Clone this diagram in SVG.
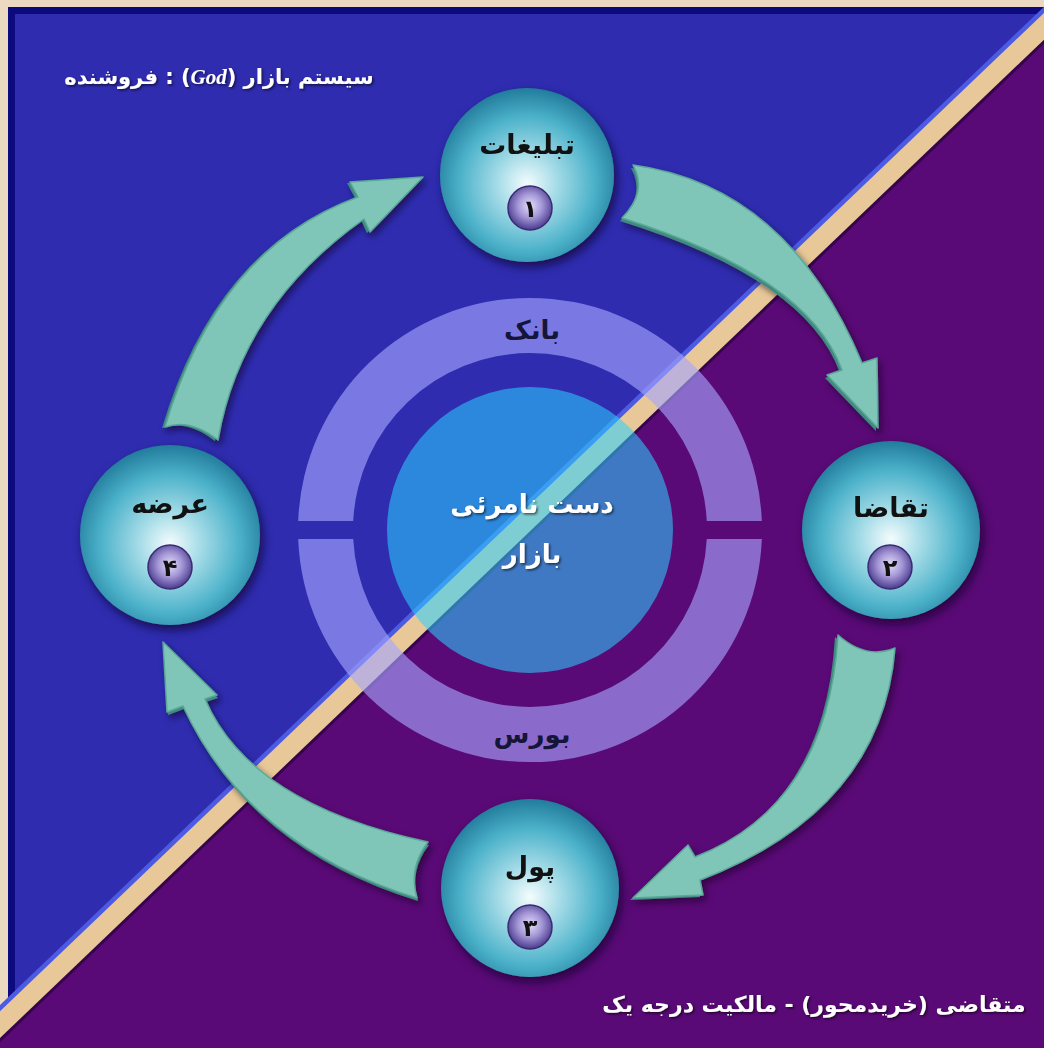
<svg xmlns="http://www.w3.org/2000/svg" width="1044" height="1048" viewBox="0 0 1044 1048">
<defs>
<style>
.fa{font-family:"DejaVu Sans",sans-serif;font-weight:bold;text-anchor:middle;direction:rtl}
.lbl{font-size:27px;fill:#111}
.dig{font-size:24px;fill:#111}
.ring{font-size:26px;fill:#15153a}
.ctr{font-size:26px;fill:#fff}
.cap{font-size:21px;fill:#fff}
.cap2{font-size:22px;fill:#fff}
.arrow{fill:#80c6b8;stroke:#5aa898;stroke-width:1.5;stroke-linejoin:round}
.aside{fill:#3f8a7f}
</style>
<radialGradient id="sph" cx="50%" cy="55%" r="55%">
<stop offset="0" stop-color="#f4fcfd"/>
<stop offset="0.3" stop-color="#a8dde8"/>
<stop offset="0.7" stop-color="#4cb2ca"/>
<stop offset="1" stop-color="#227c9c"/>
</radialGradient>
<radialGradient id="bdg" cx="50%" cy="45%" r="55%">
<stop offset="0" stop-color="#e4def8"/>
<stop offset="0.5" stop-color="#a496d6"/>
<stop offset="1" stop-color="#4a3b8e"/>
</radialGradient>
<filter id="sh" x="-25%" y="-25%" width="150%" height="150%">
<feDropShadow dx="3" dy="5" stdDeviation="5" flood-color="#100428" flood-opacity="0.7"/>
</filter>
<filter id="ash" x="-20%" y="-20%" width="140%" height="140%">
<feDropShadow dx="3" dy="4" stdDeviation="3" flood-color="#0c0424" flood-opacity="0.55"/>
</filter>
<filter id="tsh" x="-10%" y="-30%" width="120%" height="160%">
<feDropShadow dx="1.5" dy="1.5" stdDeviation="1" flood-color="#000" flood-opacity="0.6"/>
</filter>
<path id="a1" d="M633,165 Q788,186 862,363 L877,358 L878,428 L827,375 L842,370 Q808,276 622,218 Q648,192 633,165 Z"/>
<path id="a2" d="M895,648 Q882,810 700,880 L703,895 L633,898 L688,845 L695,857 Q828,805 838,635 Q866,660 895,648 Z"/>
<path id="a3" d="M417,898 Q248,846 183,706 L167,712 L163,642 L217,695 L205,699 Q250,804 428,842 Q408,868 417,898 Z"/>
<path id="a4" d="M165,427 Q218,248 358,197 L350,182 L423,177 L370,232 L364,219 Q241,306 218,440 Q190,418 165,427 Z"/>
</defs>

<g id="background">
<rect x="0" y="0" width="1044" height="1048" fill="#ecd9c2"/>
<polygon points="8,7 1080,7 8,1012" fill="#0c0a7c"/>
<polygon points="15,14 1043,14 15,997" fill="#2f2cb0"/>
<polygon points="1096,-10 1110,-10 1110,1060 -23,1060" fill="#5a0a76"/>
<line x1="1068" y1="-10" x2="-51" y2="1060" stroke="#4d5be2" stroke-width="9"/>
<line x1="1096" y1="-10" x2="-23" y2="1060" stroke="#36044c" stroke-width="6"/>
<polygon points="1068,-10 1096,-10 -23,1060 -51,1060" fill="#e8c898"/>
<rect x="0" y="0" width="1044" height="7" fill="#ecd9c2"/>
</g>

<g id="center">
<path d="M298.17,521 A232,232 0 0 1 761.83,521 L706.77,521 A177,177 0 0 0 353.23,521 Z" fill="#a6a4ff" fill-opacity="0.63"/>
<path d="M298.17,539 A232,232 0 0 0 761.83,539 L706.77,539 A177,177 0 0 1 353.23,539 Z" fill="#a6a4ff" fill-opacity="0.63"/>
<circle cx="530" cy="530" r="143" fill="#2bd0ff" fill-opacity="0.56"/>
<text class="fa ring" x="532" y="339">بانک</text>
<text class="fa ring" x="532" y="743">بورس</text>
<text class="fa ctr" x="532" y="513" filter="url(#tsh)">دست نامرئی</text>
<text class="fa ctr" x="532" y="563" filter="url(#tsh)">بازار</text>
</g>

<g id="connectors" filter="url(#ash)">
<use href="#a1" class="aside" transform="translate(-2,3)"/>
<use href="#a1" class="arrow"/>
<use href="#a2" class="aside" transform="translate(-3,2)"/>
<use href="#a2" class="arrow"/>
<use href="#a3" class="aside" transform="translate(1,3)"/>
<use href="#a3" class="arrow"/>
<use href="#a4" class="aside" transform="translate(-3,1)"/>
<use href="#a4" class="arrow"/>
</g>

<g id="node1">
<circle cx="527" cy="175" r="87" fill="url(#sph)" filter="url(#sh)"/>
<text class="fa lbl" x="527" y="154">تبلیغات</text>
<circle cx="530" cy="208" r="22" fill="url(#bdg)" stroke="#3a2c74" stroke-width="1.5"/>
<text class="fa dig" x="530" y="217">۱</text>
</g>
<g id="node2">
<circle cx="891" cy="530" r="89" fill="url(#sph)" filter="url(#sh)"/>
<text class="fa lbl" x="891" y="517">تقاضا</text>
<circle cx="890" cy="567" r="22" fill="url(#bdg)" stroke="#3a2c74" stroke-width="1.5"/>
<text class="fa dig" x="890" y="576">۲</text>
</g>
<g id="node3">
<circle cx="530" cy="888" r="89" fill="url(#sph)" filter="url(#sh)"/>
<text class="fa lbl" x="530" y="876">پول</text>
<circle cx="530" cy="927" r="22" fill="url(#bdg)" stroke="#3a2c74" stroke-width="1.5"/>
<text class="fa dig" x="530" y="936">۳</text>
</g>
<g id="node4">
<circle cx="170" cy="535" r="90" fill="url(#sph)" filter="url(#sh)"/>
<text class="fa lbl" x="170" y="513">عرضه</text>
<circle cx="170" cy="567" r="22" fill="url(#bdg)" stroke="#3a2c74" stroke-width="1.5"/>
<text class="fa dig" x="170" y="576">۴</text>
</g>

<g id="captions">
<text class="fa cap" x="219" y="84" filter="url(#tsh)">سیستم بازار (<tspan font-family="Liberation Serif" font-style="italic">God</tspan>) : فروشنده</text>
<text class="fa cap2" x="814" y="1012" filter="url(#tsh)">متقاضی (خریدمحور) - مالکیت درجه یک</text>
</g>
</svg>
